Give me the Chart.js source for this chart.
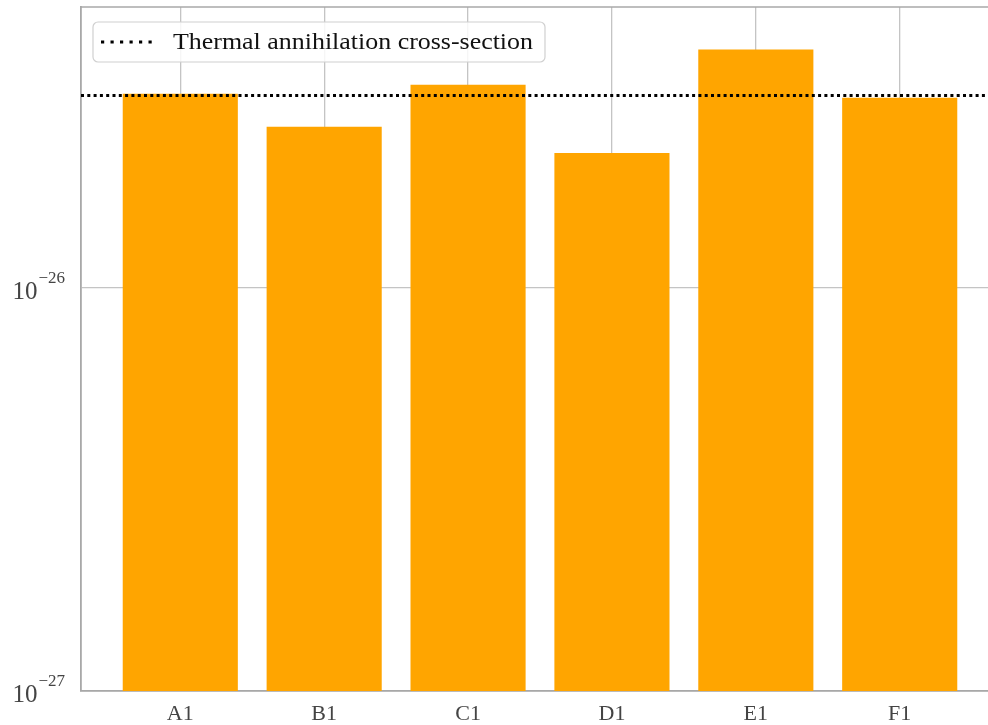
<!DOCTYPE html>
<html>
<head>
<meta charset="utf-8">
<script src="https://cdn.jsdelivr.net/npm/chart.js@4"></script>
<style>
  html, body { margin: 0; padding: 0; background: #ffffff; overflow: hidden; }
  #wrap { position: relative; width: 1000px; height: 725px; }
</style>
</head>
<body>
<div id="wrap"><canvas id="c"></canvas></div>
<script>
// ---- data ----
const categories = ['A1', 'B1', 'C1', 'D1', 'E1', 'F1'];
const crossSection = [3.03e-26, 2.51e-26, 3.19e-26, 2.16e-26, 3.90e-26, 2.96e-26];
const thermalValue = 3e-26;
const thermalLabel = 'Thermal annihilation cross-section';
const yTickValues = [1e-27, 1e-26];
const yTickBase = '10';
const yTickExponents = ['\u221227', '\u221226'];
const yRange = [1e-27, 4.97e-26];
const xRange = [-0.69, 5.69];

const FONT = "'Liberation Serif', 'DejaVu Serif', serif";
const GRID = '#c4c4c4';
const FRAME = '#a8a8a8';
const TICKCOLOR = '#444444';

const framePlugin = {
  id: 'frameAndThermal',
  afterDatasetsDraw(chart) {
    const { ctx, chartArea: a, scales } = chart;
    const y = scales.y.getPixelForValue(thermalValue);
    ctx.save();
    // top frame
    ctx.strokeStyle = FRAME;
    ctx.lineWidth = 1.6;
    ctx.beginPath();
    ctx.moveTo(a.left, a.top);
    ctx.lineTo(a.right, a.top);
    ctx.stroke();
    // thermal dotted line
    ctx.strokeStyle = '#000000';
    ctx.lineWidth = 3;
    ctx.setLineDash([3, 3.3]);
    ctx.beginPath();
    ctx.moveTo(a.left, y);
    ctx.lineTo(a.right, y);
    ctx.stroke();
    ctx.setLineDash([]);
    // legend
    const bx = a.left + 12, by = a.top + 15, bw = 452, bh = 40, r = 5;
    ctx.fillStyle = 'rgba(255,255,255,0.85)';
    ctx.strokeStyle = '#d0d0d0';
    ctx.lineWidth = 1.2;
    ctx.beginPath();
    ctx.roundRect(bx, by, bw, bh, r);
    ctx.fill();
    ctx.stroke();
    const ly = by + bh / 2;
    ctx.strokeStyle = '#000000';
    ctx.lineWidth = 3;
    ctx.setLineDash([3.2, 6.3]);
    ctx.beginPath();
    ctx.moveTo(bx + 8, ly);
    ctx.lineTo(bx + 60, ly);
    ctx.stroke();
    ctx.setLineDash([]);
    ctx.fillStyle = '#111111';
    ctx.font = '23px ' + FONT;
    ctx.textBaseline = 'middle';
    ctx.textAlign = 'left';
    const w = ctx.measureText(thermalLabel).width;
    const target = 360;
    ctx.translate(bx + 80, ly + 1);
    ctx.scale(target / w, 1);
    ctx.fillText(thermalLabel, 0, 0);
    ctx.restore();

    // y tick labels: 10 with superscript exponent
    ctx.save();
    ctx.fillStyle = TICKCOLOR;
    ctx.textBaseline = 'alphabetic';
    const ys = scales.y;
    ys.ticks.forEach((t) => {
      const k = yTickValues.indexOf(t.value);
      if (k < 0) return;
      const py = ys.getPixelForValue(t.value);
      ctx.font = '17px ' + FONT;
      const ew = ctx.measureText(yTickExponents[k]).width;
      const right = a.left - 16;
      ctx.textAlign = 'right';
      ctx.fillText(yTickExponents[k], right, py - 5);
      ctx.font = '25px ' + FONT;
      ctx.fillText(yTickBase, right - ew - 1, py + 11);
    });
    ctx.restore();
  }
};

new Chart(document.getElementById('c'), {
  type: 'bar',
  data: {
    datasets: [{
      label: 'cross-section',
      data: categories.map((c, i) => ({ x: i, y: crossSection[i] })),
      backgroundColor: '#FFA500',
      borderWidth: 0,
      categoryPercentage: 1.0,
      barPercentage: 0.8
    }]
  },
  options: {
    responsive: true,
    maintainAspectRatio: false,
    devicePixelRatio: 1,
    animation: false,
    layout: { padding: { left: 0, top: 7, right: 1, bottom: 0 } },
    plugins: { legend: { display: false }, tooltip: { enabled: false }, title: { display: false } },
    scales: {
      x: {
        type: 'linear',
        min: xRange[0],
        max: xRange[1],
        offset: false,
        afterBuildTicks(scale) { scale.ticks = categories.map((c, i) => ({ value: i })); },
        afterFit(scale) { scale.height = 34; scale.paddingLeft = 0; scale.paddingRight = 0; },
        ticks: {
          autoSkip: false,
          maxRotation: 0,
          padding: 10,
          color: TICKCOLOR,
          font: { family: FONT, size: 22 },
          callback: (v) => categories[v] ?? ''
        },
        grid: { color: GRID, lineWidth: 1.3, drawTicks: false, offset: false },
        border: { color: FRAME, width: 1.8 }
      },
      y: {
        type: 'logarithmic',
        min: yRange[0],
        max: yRange[1],
        afterBuildTicks(scale) { scale.ticks = yTickValues.map(v => ({ value: v, major: true })); },
        afterFit(scale) { scale.width = 81; scale.paddingTop = 0; scale.paddingBottom = 0; },
        ticks: {
          display: false
        },
        grid: { color: GRID, lineWidth: 1.3, drawTicks: false },
        border: { color: FRAME, width: 1.8 }
      }
    }
  },
  plugins: [framePlugin]
});
</script>
</body>
</html>
